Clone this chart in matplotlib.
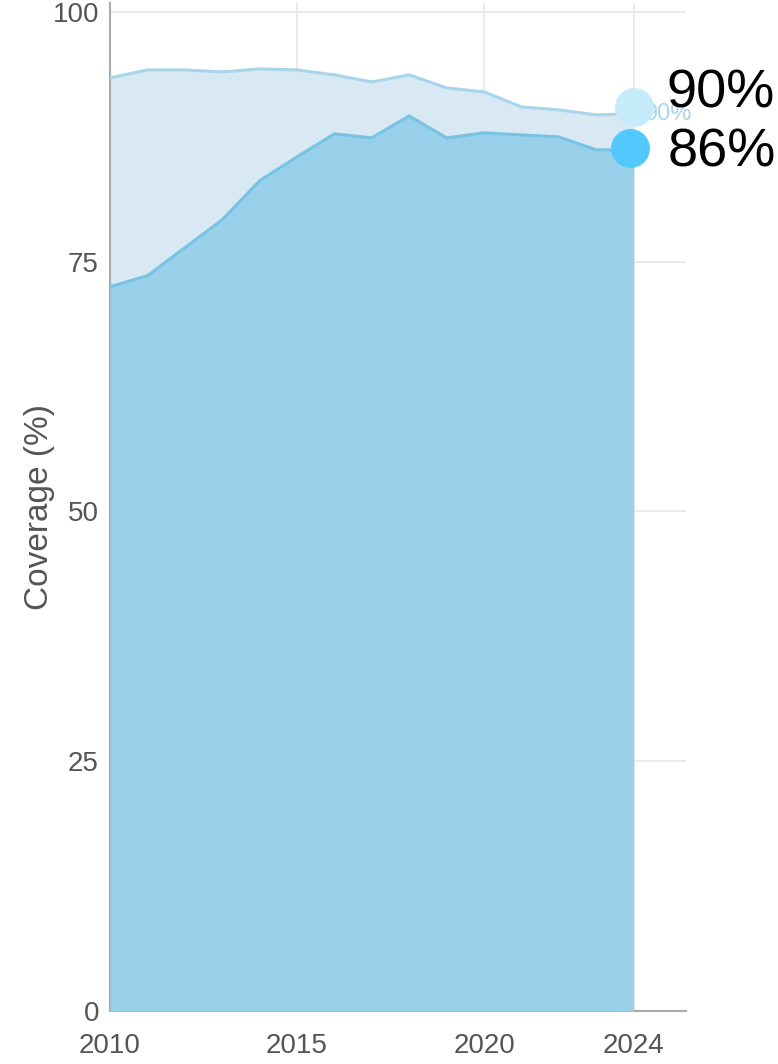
import matplotlib
matplotlib.use('Agg')
import matplotlib.pyplot as plt
import matplotlib.transforms as mtransforms

years = list(range(2010, 2025))
# first dose (light) and second dose (darker) coverage, %
dose1 = [93.4, 94.2, 94.2, 94.0, 94.3, 94.2, 93.7, 93.0, 93.7, 92.4, 92.0, 90.5, 90.2, 89.7, 89.8]
dose2 = [72.5, 73.6, 76.4, 79.2, 83.1, 85.5, 87.8, 87.4, 89.6, 87.4, 87.9, 87.7, 87.5, 86.2, 86.2]
end_labels = ['90%', '86%']
yticks = [0, 25, 50, 75, 100]
xticks = [2010, 2015, 2020, 2024]

plt.rcParams['font.family'] = ['Liberation Sans', 'DejaVu Sans']

fig = plt.figure(figsize=(7.78, 10.64), dpi=100)
ax = fig.add_axes([0.1414, 0.0498, 0.7403, 0.9474])

light_fill = '#d8e9f3'
light_line = '#a9d5ea'
dark_fill = '#98d0ea'
dark_line = '#78c3e4'

ax.fill_between(years, 0, dose1, color=light_fill, lw=0, zorder=2)
ax.plot(years, dose1, color=light_line, lw=2.2, zorder=3)
ax.fill_between(years, 0, dose2, color=dark_fill, lw=0, zorder=4)
ax.plot(years, dose2, color=dark_line, lw=2.2, zorder=5)

ax.set_xlim(2010, 2025.4)
ax.set_ylim(0, 100.9)
ax.set_xticks(xticks)
ax.set_yticks(yticks)
ax.grid(True, color='#e6e6e6', lw=1.2, zorder=0)
ax.tick_params(length=0, labelsize=20, colors='#555555', pad=8)
ax.tick_params(axis='x', pad=16)
for s in ['top', 'right']:
    ax.spines[s].set_visible(False)
for s in ['left', 'bottom']:
    ax.spines[s].set_color('#aaaaaa')
    ax.spines[s].set_linewidth(1.5)
ax.set_ylabel('Coverage (%)', fontsize=24, color='#555555', va='center')
ax.yaxis.set_label_coords(-0.123, 0.5)

# faint inline label partly hidden under the marker
ax.text(years[-1] + 0.3, dose1[-1], end_labels[0], fontsize=17, color=light_line,
        va='center', ha='left', zorder=6, clip_on=False)

off1 = mtransforms.offset_copy(ax.transData, fig=fig, x=0, y=7, units='dots')
off2 = mtransforms.offset_copy(ax.transData, fig=fig, x=-4, y=2, units='dots')
ax.plot(years[-1], dose1[-1], 'o', ms=27, color='#c6ebfb', transform=off1,
        clip_on=False, zorder=7)
ax.plot(years[-1], dose2[-1], 'o', ms=27, color='#52c8fd', transform=off2,
        clip_on=False, zorder=7)

t1 = mtransforms.offset_copy(ax.transData, fig=fig, x=33, y=20, units='dots')
t2 = mtransforms.offset_copy(ax.transData, fig=fig, x=34, y=-3, units='dots')
ax.text(years[-1], dose1[-1], end_labels[0], fontsize=39, color='black',
        va='center', ha='left', transform=t1, clip_on=False, zorder=8)
ax.text(years[-1], dose2[-1], end_labels[1], fontsize=39, color='black',
        va='center', ha='left', transform=t2, clip_on=False, zorder=8)

fig.savefig('out.png', dpi=100)
